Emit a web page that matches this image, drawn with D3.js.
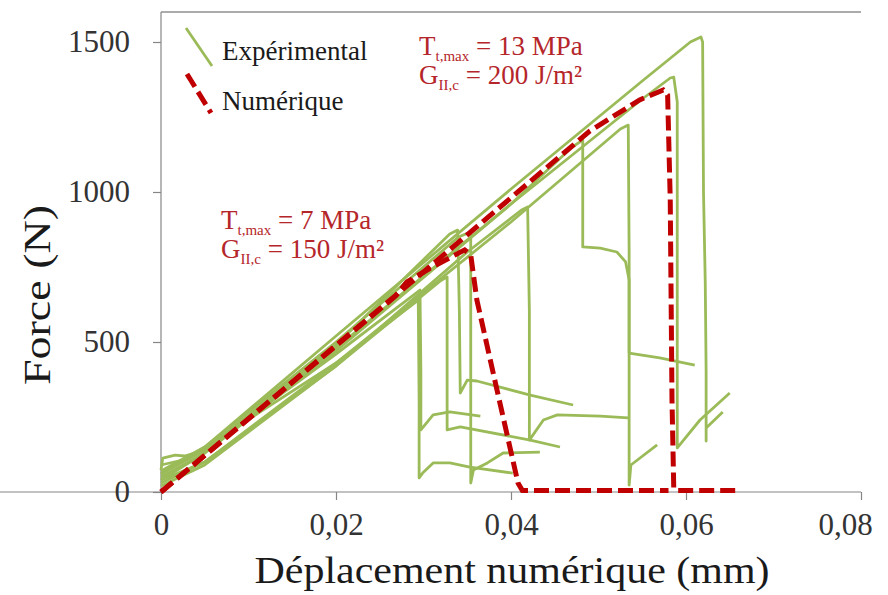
<!DOCTYPE html>
<html lang="fr">
<head>
<meta charset="UTF-8">
<title>Force - déplacement</title>
<style>
  html, body { margin: 0; padding: 0; background: #fff; }
  svg { display: block; }
  svg text { font-family: "Liberation Serif", "DejaVu Serif", "Noto Serif", serif; }
</style>
</head>
<body>
<svg id="chart" width="888" height="595"></svg>
<script src="https://cdn.jsdelivr.net/npm/d3@7"></script>
<script>
// ticks
const xTicks = [0, 0.02, 0.04, 0.06, 0.08];
const yTicks = [0, 500, 1000, 1500];

// essais expérimentaux [déplacement (mm), force (N)]
const essai1 = [[0,90],[0.003,110],[0.02,430],[0.029,630],[0.0294,640],[0.0295,300],[0.0295,47],[0.0299,63],[0.0311,97],[0.033,97],[0.0353,83],[0.0402,63]];
const essai2 = [[0,73],[0.0002,113],[0.0016,123],[0.0027,120],[0.005,140],[0.02,460],[0.0296,673],[0.0297,400],[0.0297,207],[0.0311,257],[0.033,267],[0.0365,253]];
const essai3 = [[0,40],[0.005,100],[0.02,420],[0.032,705],[0.0327,717],[0.0327,400],[0.0327,207],[0.0342,217],[0.0422,173],[0.0456,150]];
const essai4 = [[0,60],[0.005,140],[0.02,490],[0.033,860],[0.0339,873],[0.0341,600],[0.0342,330],[0.035,373],[0.0361,370],[0.0422,323],[0.0471,290]];
const essai5 = [[0,70],[0.005,150],[0.02,500],[0.034,850],[0.0354,867],[0.0354,400],[0.0354,30],[0.0357,73],[0.0373,97],[0.0391,130],[0.0433,133]];
const essai6 = [[0,20],[0.005,90],[0.02,420],[0.035,800],[0.0412,940],[0.0419,950],[0.0421,600],[0.0421,173],[0.0437,240],[0.0453,257],[0.0502,253],[0.0534,247]];
const essai7 = [[0,50],[0.005,130],[0.02,470],[0.04,960],[0.047,1150],[0.0482,1173],[0.0482,817],[0.0502,813],[0.0521,800],[0.0531,767],[0.0535,707],[0.0535,23],[0.0537,90],[0.0567,157]];
const essai8 = [[0,30],[0.005,100],[0.02,430],[0.04,900],[0.0525,1210],[0.0534,1223],[0.0535,800],[0.0535,463],[0.057,447],[0.061,423]];
const essai9 = [[0,40],[0.005,130],[0.02,480],[0.04,960],[0.055,1310],[0.0582,1380],[0.0586,1383],[0.059,1300],[0.059,147],[0.0616,240],[0.065,330]];
const essai10 = [[0,60],[0.005,150],[0.02,520],[0.04,1010],[0.055,1370],[0.0605,1500],[0.0617,1517],[0.0619,1500],[0.062,1000],[0.0622,700],[0.0623,400],[0.0623,170],[0.0623,213],[0.0642,267]];

// modèles numériques
const numTmax7 = [[0,0],[0.0268,653],[0.0281,700],[0.031,750],[0.0347,807],[0.0354,790],[0.0361,640],[0.0384,340],[0.0408,30],[0.0413,5],[0.058,5]];
const numTmax13 = [[0,0],[0.0273,667],[0.049,1203],[0.0547,1307],[0.0574,1340],[0.0579,1323],[0.0582,973],[0.0584,307],[0.0586,13],[0.0589,5],[0.0658,5]];

const experimental = [essai1, essai2, essai3, essai4, essai5, essai6, essai7, essai8, essai9, essai10];
const numerical = [numTmax7, numTmax13];

const green = "#9bbb59";
const red = "#c00000";
const serif = "'Liberation Serif', 'DejaVu Serif', 'Noto Serif', serif";

const svg = d3.select("#chart");

const x = d3.scaleLinear().domain([0, 0.08]).range([161, 861]);
const y = d3.scaleLinear().domain([0, 1600]).range([492, 12]);

const line = d3.line().x(d => x(d[0])).y(d => y(d[1]));

// frame top line
svg.append("line")
    .attr("x1", x(0)).attr("x2", x(0.08))
    .attr("y1", y(1600)).attr("y2", y(1600))
    .attr("stroke", "#595959").attr("stroke-width", 1.2);

// axes
const xAxis = svg.append("g")
    .attr("transform", `translate(0,${y(0)})`)
    .call(d3.axisBottom(x).tickValues(xTicks).tickSize(8).tickPadding(13)
        .tickFormat(d => d === 0 ? "0" : d.toFixed(2).replace(".", ",")));
const yAxis = svg.append("g")
    .attr("transform", `translate(${x(0)},0)`)
    .call(d3.axisLeft(y).tickValues(yTicks).tickSize(8).tickPadding(23)
        .tickFormat(d3.format("d")));

[xAxis, yAxis].forEach(g => {
    g.attr("font-family", serif);
    g.select(".domain").attr("stroke", "#868686").attr("stroke-width", 1.2);
    g.selectAll(".tick line").attr("stroke", "#868686").attr("stroke-width", 1.2);
    g.selectAll(".tick text")
        .attr("fill", "#333")
        .attr("font-family", serif)
        .attr("font-size", 31);
});
yAxis.select(".domain").attr("d", `M0,${y(1600)}V${y(0)}`);
xAxis.select(".domain").attr("d", `M0,0H${x(0.08)}`);
// last label kept inside the picture, as in the original
xAxis.selectAll(".tick text").filter(d => d === 0.08).attr("dx", -16);

// experimental curves
svg.append("g")
    .attr("fill", "none")
    .attr("stroke", green)
    .attr("stroke-width", 2.8)
    .attr("stroke-linejoin", "round")
    .selectAll("path")
    .data(experimental)
    .join("path")
    .attr("d", line);

// numerical curves
svg.append("g")
    .attr("fill", "none")
    .attr("stroke", red)
    .attr("stroke-width", 5)
    .attr("stroke-dasharray", "15,6")
    .selectAll("path")
    .data(numerical)
    .join("path")
    .attr("d", line);

// axis titles
svg.append("text")
    .attr("x", 512).attr("y", 583)
    .attr("text-anchor", "middle")
    .attr("textLength", 515).attr("lengthAdjust", "spacingAndGlyphs")
    .attr("fill", "#1a1a1a")
    .attr("font-family", serif)
    .attr("font-size", 38)
    .text("Déplacement numérique (mm)");

svg.append("text")
    .attr("transform", "translate(50,295) rotate(-90)")
    .attr("text-anchor", "middle")
    .attr("textLength", 180).attr("lengthAdjust", "spacingAndGlyphs")
    .attr("fill", "#1a1a1a")
    .attr("font-family", serif)
    .attr("font-size", 38)
    .text("Force (N)");

// legend
const legend = svg.append("g").attr("font-family", serif);
legend.append("line")
    .attr("x1", 186).attr("y1", 28).attr("x2", 212).attr("y2", 66)
    .attr("stroke", green).attr("stroke-width", 2.8);
legend.append("line")
    .attr("x1", 187).attr("y1", 74).attr("x2", 211).attr("y2", 113)
    .attr("stroke", red).attr("stroke-width", 5).attr("stroke-dasharray", "15,6");
legend.append("text").attr("x", 222).attr("y", 60)
    .attr("fill", "#1a1a1a").attr("font-size", 27).text("Expérimental");
legend.append("text").attr("x", 222).attr("y", 110)
    .attr("fill", "#1a1a1a").attr("font-size", 27).text("Numérique");

// annotations
function annotate(x0, y0, t, g) {
    const a = svg.append("g").attr("fill", "#b5262b").attr("font-family", serif).attr("font-size", 27);
    const t1 = a.append("text").attr("x", x0).attr("y", y0);
    t1.append("tspan").text("T");
    t1.append("tspan").attr("dy", 6).attr("font-size", 15).text("t,max");
    t1.append("tspan").attr("dy", -6).text(" = " + t);
    const t2 = a.append("text").attr("x", x0).attr("y", y0 + 29);
    t2.append("tspan").text("G");
    t2.append("tspan").attr("dy", 6).attr("font-size", 15).text("II,c");
    t2.append("tspan").attr("dy", -6).text(" = " + g);
}
annotate(419, 55, "13 MPa", "200 J/m²");
annotate(221, 229, "7 MPa", "150 J/m²");
</script>
</body>
</html>
